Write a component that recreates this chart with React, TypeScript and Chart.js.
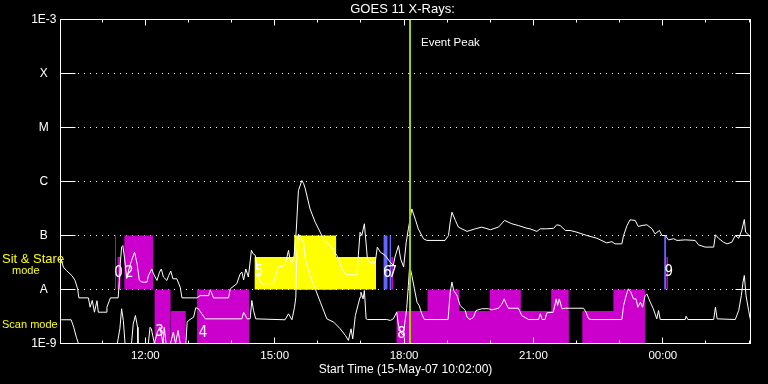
import React, { useEffect, useRef } from "react";
import { Chart, registerables } from "chart.js";

Chart.register(...registerables);

// ---- axis definitions ----
const axisStartHour = 10 + 2 / 60; // 15-May-07 10:02:00
const axisEndHour = axisStartHour + 16;
const majorHours = [12, 15, 18, 21, 24];
const minorHours = [11, 13, 14, 16, 17, 19, 20, 22, 23, 25, 26];
const levelValues = [1e-9, 1e-8, 1e-7, 1e-6, 1e-5, 1e-4, 1e-3];
const levelLabels = ["1E-9", "A", "B", "C", "M", "X", "1E-3"];
const classLevels = [1e-8, 1e-7, 1e-6, 1e-5, 1e-4];

// ---- GOES long channel (upper curve) ----
const upperTime = [
  10.05, 10.10, 10.17, 10.30, 10.37, 10.43, 10.46, 10.68, 10.72, 10.77, 10.82, 10.88, 10.91, 11.09, 11.11, 11.19,
  11.37, 11.40, 11.42, 11.45, 11.48, 11.52, 11.57, 11.62, 11.68, 11.75, 11.81, 11.86, 11.92, 12.04, 12.07, 12.15,
  12.19, 12.27, 12.33, 12.37, 12.42, 12.50, 12.54, 12.59, 12.64, 12.73, 12.81, 12.85, 13.20, 13.27, 13.47, 13.50,
  13.53, 13.58, 13.93, 13.97, 14.12, 14.20, 14.24, 14.28, 14.33, 14.39, 14.46, 14.50, 14.55, 14.59, 14.64, 14.69,
  14.97, 15.01, 15.09, 15.24, 15.32, 15.36, 15.41, 15.45, 15.50, 15.55, 15.63, 15.67, 15.71, 15.82, 15.94, 16.13,
  16.29, 16.44, 16.60, 16.67, 16.91, 16.94, 16.98, 17.02, 17.08, 17.10, 17.15, 17.21, 17.33, 17.38, 17.45, 17.56,
  17.68, 17.75, 17.79, 17.87, 17.92, 17.99, 18.05, 18.10, 18.18, 18.26, 18.33, 18.45, 18.53, 18.95, 19.03, 19.07,
  19.11, 19.19, 19.26, 19.46, 19.65, 19.80, 20.00, 20.19, 20.33, 20.50, 20.65, 20.85, 20.92, 21.08, 21.16, 21.31,
  21.47, 21.54, 21.62, 21.74, 21.85, 22.01, 22.24, 22.47, 22.70, 22.82, 22.89, 23.05, 23.09, 23.17, 23.24, 23.36,
  23.43, 23.52, 23.63, 23.75, 23.82, 23.92, 23.98, 24.06, 24.13, 24.25, 24.33, 24.52, 24.75, 24.83, 24.98, 25.18,
  25.22, 25.29, 25.41, 25.49, 25.60, 25.68, 25.76, 25.83, 25.89, 25.92, 25.99, 26.03,
];
const upperFlux = [
  3.6e-8, 2.6e-8, 2.25e-8, 1.8e-8, 1.47e-8, 1.03e-8, 7.0e-9, 7.0e-9, 4.7e-9, 6.25e-9, 3.8e-9, 6.2e-9, 3.8e-9, 3.8e-9, 4.7e-9, 7.0e-9,
  7.0e-9, 1.47e-8, 3.0e-8, 6.1e-8, 6.5e-8, 3.7e-8, 1.6e-8, 2.4e-8, 3.4e-8, 4.9e-8, 3.0e-8, 1.5e-8, 1.37e-8, 1.37e-8, 1.8e-8, 2.4e-8,
  1.95e-8, 1.47e-8, 2.1e-8, 2.4e-8, 1.7e-8, 1.47e-8, 1.8e-8, 2.2e-8, 1.58e-8, 1.58e-8, 1.1e-8, 7.0e-9, 7.0e-9, 7.7e-9, 7.7e-9, 9.6e-9,
  9.0e-9, 7.0e-9, 7.0e-9, 1.03e-8, 1.28e-8, 1.95e-8, 2.1e-8, 1.5e-8, 2.4e-8, 1.7e-8, 5.3e-8, 4.6e-8, 4.3e-8, 2.6e-8, 1.58e-8, 1.28e-8,
  1.28e-8, 1.7e-8, 2.6e-8, 2.8e-8, 5.3e-8, 3.4e-8, 3.2e-8, 4.3e-8, 1.24e-7, 6.8e-7, 1.04e-6, 9.2e-7, 7.3e-7, 3.1e-7, 1.76e-7, 8.7e-8,
  6.5e-8, 4.3e-8, 2.1e-8, 1.87e-8, 1.87e-8, 4.3e-8, 1.15e-7, 1.0e-7, 1.65e-7, 1.07e-7, 3.7e-8, 3.1e-8, 3.1e-8, 6.1e-8, 4.9e-8, 4.3e-8,
  3.2e-8, 2.8e-8, 4.0e-8, 6.5e-8, 3.7e-8, 2.6e-8, 7.5e-8, 1.33e-7, 3.1e-7, 2.0e-7, 1.33e-7, 8.7e-8, 8.1e-8, 8.1e-8, 1.0e-7, 1.76e-7,
  2.7e-7, 1.9e-7, 1.43e-7, 1.19e-7, 1.33e-7, 1.43e-7, 1.28e-7, 1.43e-7, 1.9e-7, 1.65e-7, 1.53e-7, 1.36e-7, 1.33e-7, 1.19e-7, 1.33e-7, 1.33e-7,
  1.36e-7, 1.58e-7, 1.53e-7, 1.24e-7, 1.24e-7, 1.15e-7, 1.0e-7, 8.9e-8, 7.3e-8, 7.7e-8, 7.0e-8, 7.0e-8, 1.0e-7, 1.53e-7, 1.95e-7, 1.9e-7,
  1.47e-7, 1.53e-7, 1.58e-7, 1.33e-7, 1.07e-7, 1.24e-7, 1.0e-7, 1.0e-7, 8.3e-8, 8.7e-8, 8.1e-8, 8.3e-8, 8.1e-8, 6.7e-8, 6.1e-8, 6.1e-8,
  1.03e-7, 8.9e-8, 7.5e-8, 7.0e-8, 7.5e-8, 1.0e-7, 8.9e-8, 1.24e-7, 1.98e-7, 1.15e-7, 1.03e-7, 9.3e-8,
];

// ---- GOES short channel (lower curve) ----
const lowerTime = [
  10.05, 10.28, 10.34, 10.40, 10.45, 11.35, 11.41, 11.45, 11.49, 11.53, 11.68, 11.72, 11.77, 11.82, 11.83, 12.07,
  12.11, 12.14, 12.21, 12.28, 12.34, 12.38, 12.41, 12.44, 12.48, 12.58, 12.65, 12.70, 12.76, 12.81, 12.94, 12.97,
  13.00, 13.12, 13.17, 13.23, 13.31, 13.39, 14.24, 14.28, 14.36, 14.43, 14.47, 14.51, 14.56, 15.24, 15.32, 15.40,
  15.46, 15.49, 15.51, 15.55, 15.59, 15.67, 15.71, 15.82, 15.94, 16.06, 16.21, 16.37, 16.52, 16.64, 16.71, 16.77,
  16.81, 16.87, 16.98, 17.00, 17.05, 17.08, 17.12, 17.15, 17.60, 17.68, 17.75, 17.83, 17.87, 17.93, 17.98, 18.06,
  18.10, 18.13, 18.18, 18.24, 18.30, 18.35, 18.41, 18.47, 19.02, 19.07, 19.11, 19.15, 19.23, 19.30, 19.42, 19.46,
  19.53, 19.61, 19.67, 19.80, 19.96, 20.04, 20.19, 20.27, 20.32, 20.37, 20.42, 20.65, 20.73, 20.86, 20.89, 21.12,
  21.16, 21.20, 21.27, 21.31, 21.46, 21.53, 21.56, 21.60, 21.66, 21.74, 22.16, 22.22, 22.28, 22.35, 23.05, 23.09,
  23.15, 23.20, 23.26, 23.32, 23.38, 23.42, 23.48, 23.53, 23.59, 23.63, 23.71, 23.78, 23.86, 23.90, 23.94, 24.52,
  24.54, 24.58, 25.18, 25.22, 25.26, 25.68, 25.76, 25.82, 25.86, 25.89, 25.93, 25.99, 26.03,
];
const lowerFlux = [
  2.75e-9, 2.75e-9, 2.0e-9, 1.31e-9, 1.0e-9, 1.0e-9, 1.87e-9, 4.4e-9, 2.67e-9, 1.0e-9, 1.0e-9, 2.3e-9, 3.3e-9, 2.0e-9, 1.0e-9, 1.0e-9,
  2.0e-9, 1.87e-9, 1.0e-9, 1.62e-9, 2.0e-9, 1.35e-9, 1.0e-9, 2.0e-9, 1.0e-9, 1.0e-9, 1.62e-9, 1.0e-9, 1.74e-9, 1.0e-9, 1.0e-9, 2.45e-9,
  2.67e-9, 3.07e-9, 4.6e-9, 4.4e-9, 3.55e-9, 2.86e-9, 2.86e-9, 3.8e-9, 2.86e-9, 2.86e-9, 6.25e-9, 4.08e-9, 2.86e-9, 2.75e-9, 3.55e-9, 2.75e-9,
  4.7e-9, 7.2e-9, 3.7e-8, 1.07e-7, 9.3e-8, 7.5e-8, 3.7e-8, 1.82e-8, 1.03e-8, 5.8e-9, 2.86e-9, 2.48e-9, 1.87e-9, 1.41e-9, 1.14e-9, 1.87e-9,
  1.22e-9, 3.3e-9, 7.2e-9, 8.9e-9, 6.7e-9, 9.6e-9, 2.86e-9, 2.78e-9, 2.78e-9, 2.67e-9, 2.86e-9, 3.8e-9, 2.15e-9, 1.6e-9, 1.41e-9, 4.4e-9,
  1.19e-8, 2.78e-8, 1.82e-8, 1.03e-8, 5.8e-9, 5.06e-9, 3.55e-9, 2.78e-9, 2.78e-9, 8.9e-9, 1.37e-8, 9.6e-9, 7.7e-9, 5.06e-9, 4.08e-9, 3.07e-9,
  2.78e-9, 3.07e-9, 4.08e-9, 4.4e-9, 4.4e-9, 4.2e-9, 4.5e-9, 5.4e-9, 6.7e-9, 5.4e-9, 4.5e-9, 4.5e-9, 3.3e-9, 2.86e-9, 2.78e-9, 2.78e-9,
  3.55e-9, 2.78e-9, 2.78e-9, 3.7e-9, 3.8e-9, 6.7e-9, 5.06e-9, 6.7e-9, 4.4e-9, 4.5e-9, 4.5e-9, 3.8e-9, 2.86e-9, 2.78e-9, 2.78e-9, 5.06e-9,
  7.7e-9, 1.03e-8, 8.9e-9, 6.7e-9, 6.7e-9, 4.7e-9, 5.8e-9, 4.7e-9, 7.7e-9, 8.3e-9, 5.8e-9, 4.4e-9, 2.86e-9, 4.08e-9, 2.78e-9, 2.78e-9,
  3.2e-9, 2.78e-9, 2.78e-9, 4.7e-9, 2.86e-9, 2.78e-9, 4.08e-9, 7.7e-9, 1.37e-8, 1.82e-8, 7.7e-9, 4.08e-9, 2.78e-9,
];

// ---- observation blocks ----
const magentaStart = [11.298, 11.35, 11.51, 12.21, 12.59, 13.20, 17.70, 17.82, 18.54, 19.98, 21.41, 22.13, 22.85, 24.08];
const magentaEnd = [11.321, 11.43, 12.18, 12.59, 12.94, 14.41, 17.75, 21.82, 19.28, 20.71, 21.82, 23.59, 23.59, 24.12];
const magentaLow = [1e-8, 1e-8, 1e-8, 1e-9, 1e-9, 1e-9, 1e-8, 1e-9, 1e-9, 1e-9, 1e-9, 1e-9, 1e-9, 1e-8];
const magentaHigh = [1e-7, 4e-8, 1e-7, 1e-8, 4e-9, 1e-8, 4e-8, 4e-9, 1e-8, 1e-8, 1e-8, 4e-9, 1e-8, 4e-8];

const yellowStart = [14.53, 15.45];
const yellowEnd = [17.35, 16.43];
const yellowLow = [1e-8, 1e-8];
const yellowHigh = [4e-8, 1e-7];

const blueStart = [17.52, 17.66, 24.03];
const blueEnd = [17.62, 17.70, 24.08];
const blueLow = [1e-8, 1e-8, 1e-8];
const blueHigh = [1e-7, 1e-7, 1e-7];

const boxLabelText = ["0", "2", "3", "4", "5", "6", "7", "8", "9"];
const boxLabelTime = [11.38, 11.63, 12.33, 13.34, 14.64, 17.61, 17.74, 17.94, 24.14];
const boxLabelFlux = [2.0e-8, 2.0e-8, 1.62e-9, 1.53e-9, 2.1e-8, 2.0e-8, 2.0e-8, 1.47e-9, 2.1e-8];

const peakHour = 18.138;
const peakLabelFlux = 3.67e-4;
const modeLabelText = ["Sit & Stare", "mode", "Scan mode"];
const modeLabelFlux = [3.6e-8, 2.2e-8, 2.25e-9];
const modeLabelIndent = [2, 12, 2];
const modeLabelSize = [13, 11, 11];

const titleText = "GOES 11 X-Rays:";
const xTitleText = "Start Time (15-May-07 10:02:00)";

const FONT = "'Liberation Sans', Arial, sans-serif";
const DIGIT_FONT = "'Liberation Sans Narrow', 'DejaVu Sans Condensed', 'Liberation Sans', sans-serif";
const MAGENTA = "#cc00cc";
const YELLOW = "#ffff00";
const BLUE = "#6464ff";
const GREEN = "#a0d000";

function boxDatasets(starts: number[], ends: number[], lows: number[], highs: number[], color: string) {
  return starts.map((s, i) => ({
    type: "line" as const,
    data: [
      { x: s, y: highs[i] },
      { x: ends[i], y: highs[i] },
    ],
    borderWidth: 0,
    borderColor: "rgba(0,0,0,0)",
    backgroundColor: color,
    fill: { value: lows[i] },
    pointRadius: 0,
    order: 3,
  }));
}

const decorPlugin = {
  id: "goesDecor",
  beforeDraw(chart: any) {
    const { ctx, width, height } = chart;
    ctx.save();
    ctx.fillStyle = "#000";
    ctx.fillRect(0, 0, width, height);
    ctx.restore();
  },
  beforeDatasetsDraw(chart: any) {
    const { ctx, chartArea, scales } = chart;
    const y = scales.y;
    ctx.save();
    ctx.strokeStyle = "#fff";
    ctx.lineWidth = 1;
    ctx.setLineDash([1, 5]);
    classLevels.forEach((v) => {
      const py = y.getPixelForValue(v);
      ctx.beginPath();
      ctx.moveTo(chartArea.left + 17.5, py);
      ctx.lineTo(chartArea.right - 15, py);
      ctx.stroke();
    });
    ctx.restore();
  },
  afterDatasetsDraw(chart: any) {
    const { ctx, chartArea, scales } = chart;
    const { left, right, top, bottom } = chartArea;
    const x = scales.x;
    const y = scales.y;
    ctx.save();
    ctx.strokeStyle = "#fff";
    ctx.lineWidth = 1;
    ctx.strokeRect(left, top, right - left, bottom - top);
    ctx.beginPath();
    const hourTick = (h: number, len: number) => {
      const px = Math.floor(x.getPixelForValue(h)) + 0.5;
      ctx.moveTo(px, top);
      ctx.lineTo(px, top + len);
      ctx.moveTo(px, bottom);
      ctx.lineTo(px, bottom - len);
    };
    majorHours.forEach((h) => hourTick(h, 6));
    minorHours.forEach((h) => hourTick(h, 3));
    classLevels.forEach((v) => {
      const py = y.getPixelForValue(v);
      ctx.moveTo(left, py);
      ctx.lineTo(left + 15, py);
      ctx.moveTo(right - 15, py);
      ctx.lineTo(right, py);
    });
    ctx.stroke();

    // box labels
    ctx.fillStyle = "#fff";
    ctx.font = `15px ${DIGIT_FONT}`;
    ctx.textAlign = "center";
    ctx.textBaseline = "middle";
    boxLabelText.forEach((t, i) => {
      ctx.fillText(t, x.getPixelForValue(boxLabelTime[i]), y.getPixelForValue(boxLabelFlux[i]));
    });

    // event peak label
    ctx.font = `11.5px ${FONT}`;
    ctx.textAlign = "left";
    ctx.fillText("Event Peak", x.getPixelForValue(peakHour) + 11, y.getPixelForValue(peakLabelFlux));

    // title
    ctx.font = `13px ${FONT}`;
    ctx.textAlign = "center";
    ctx.fillText(titleText, (left + right) / 2 - 3, top - 10);

    // mode labels
    ctx.fillStyle = YELLOW;
    ctx.textAlign = "left";
    modeLabelText.forEach((t, i) => {
      ctx.font = `${modeLabelSize[i]}px ${FONT}`;
      ctx.fillText(t, modeLabelIndent[i], y.getPixelForValue(modeLabelFlux[i]));
    });
    ctx.restore();
  },
};

export default function App() {
  const canvasRef = useRef<HTMLCanvasElement | null>(null);

  useEffect(() => {
    document.body.style.margin = "0";
    document.body.style.background = "#000";
    const canvas = canvasRef.current;
    if (!canvas) return;

    const datasets: any[] = [
      {
        type: "line",
        data: [
          { x: peakHour, y: 1e-9 },
          { x: peakHour, y: 1e-3 },
        ],
        borderColor: GREEN,
        borderWidth: 2,
        pointRadius: 0,
        fill: false,
        order: 1,
      },
      {
        type: "line",
        data: upperTime.map((t, i) => ({ x: t, y: upperFlux[i] })),
        borderColor: "#ffffff",
        borderWidth: 1,
        pointRadius: 0,
        fill: false,
        tension: 0,
        order: 2,
      },
      {
        type: "line",
        data: lowerTime.map((t, i) => ({ x: t, y: lowerFlux[i] })),
        borderColor: "#ffffff",
        borderWidth: 1,
        pointRadius: 0,
        fill: false,
        tension: 0,
        order: 2,
      },
      ...boxDatasets(magentaStart, magentaEnd, magentaLow, magentaHigh, MAGENTA),
      ...boxDatasets(yellowStart, yellowEnd, yellowLow, yellowHigh, YELLOW),
      ...boxDatasets(blueStart, blueEnd, blueLow, blueHigh, BLUE),
    ];

    const chart = new Chart(canvas, {
      type: "line",
      data: { datasets },
      plugins: [decorPlugin],
      options: {
        animation: false,
        responsive: false,
        devicePixelRatio: 1,
        layout: { padding: { top: 19.5, right: 17.5, left: 0, bottom: 0 } },
        plugins: {
          legend: { display: false },
          tooltip: { enabled: false },
          title: { display: false },
        },
        scales: {
          x: {
            type: "linear",
            min: axisStartHour,
            max: axisEndHour,
            grid: { display: false, drawTicks: false },
            border: { display: false },
            ticks: {
              color: "#ffffff",
              font: { family: FONT, size: 11.5 },
              padding: 5,
              maxRotation: 0,
              autoSkip: false,
              callback: (v: any) => `${String(Number(v) % 24).padStart(2, "0")}:00`,
            },
            afterBuildTicks: (s: any) => {
              s.ticks = majorHours.map((v) => ({ value: v }));
            },
            afterFit: (s: any) => {
              s.height = 40.5;
            },
            title: {
              display: true,
              text: xTitleText,
              color: "#ffffff",
              font: { family: FONT, size: 12 },
              padding: { top: 0, bottom: 7.5 },
            },
          },
          y: {
            type: "logarithmic",
            min: 1e-9,
            max: 1e-3,
            grid: { display: false, drawTicks: false },
            border: { display: false },
            ticks: {
              color: "#ffffff",
              font: { family: FONT, size: 12 },
              crossAlign: "center",
              padding: 4,
              autoSkip: false,
              callback: (_v: any, i: number) => levelLabels[i],
            },
            afterBuildTicks: (s: any) => {
              s.ticks = levelValues.map((v) => ({ value: v }));
            },
            afterFit: (s: any) => {
              s.width = 60.5;
            },
          },
        },
      } as any,
    });

    return () => {
      chart.destroy();
    };
  }, []);

  return <canvas ref={canvasRef} width={768} height={384} style={{ display: "block" }} />;
}
